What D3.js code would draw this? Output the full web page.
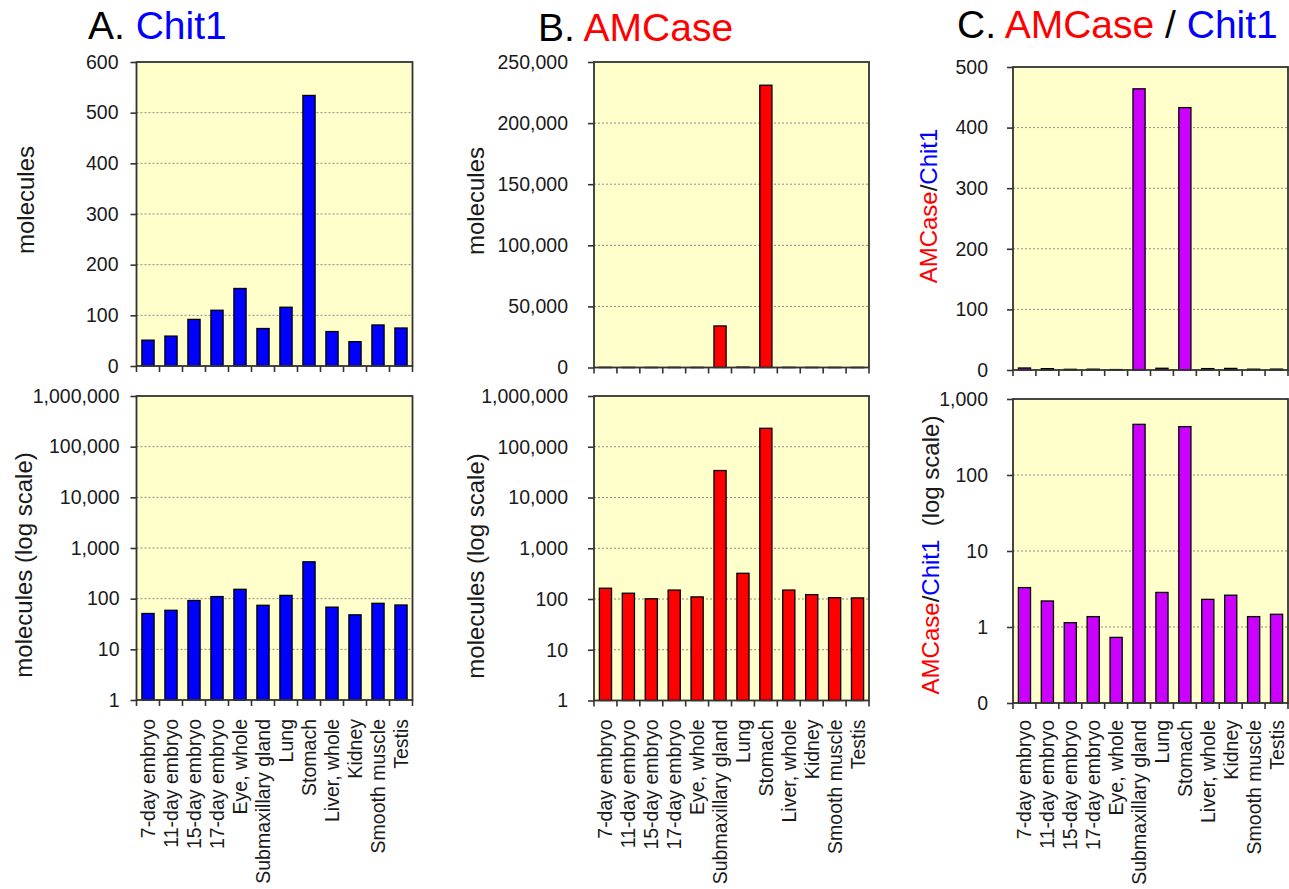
<!DOCTYPE html>
<html><head><meta charset="utf-8">
<script src="https://cdn.jsdelivr.net/npm/d3@7"></script>
<style>
body{margin:0;background:#fff}
text{font-family:Arial,"Liberation Sans",sans-serif}
</style>
</head><body>
<svg id="c" width="1289" height="889"></svg>
<script>
const categories = ["7-day embryo","11-day embryo","15-day embryo","17-day embryo","Eye, whole","Submaxillary gland","Lung","Stomach","Liver, whole","Kidney","Smooth muscle","Testis"];
const chit1 = [51,59,92,110,153,74,116,534,68,48,81,75];
const amcase = [163,130,101,150,110,34000,321,231000,150,122,106,105];
const ratio = [3.3,2.2,1.14,1.37,0.73,464,2.85,433,2.31,2.62,1.37,1.47];
const linTicksA = [0,100,200,300,400,500,600];
const linTicksB = [0,50000,100000,150000,200000,250000];
const linTicksC = [0,100,200,300,400,500];
const logTicksAB = [1,10,100,1000,10000,100000,1000000];
const logTicksC = [0.1,1,10,100,1000];

const BLUE="#0000ff", RED="#ff0000", PURPLE="#cc00ff", INK="#1a1a1a";
const svg = d3.select("#c");
const comma = d3.format(",");

function panel(o){
  const x = d3.scaleBand().domain(categories).range([o.x0,o.x1]);
  const y = (o.log ? d3.scaleLog() : d3.scaleLinear()).domain([o.ticks[0], o.ticks[o.ticks.length-1]]).range([o.y1,o.y0]);
  const g = svg.append("g");
  g.append("rect").attr("x",o.x0).attr("y",o.y0).attr("width",o.x1-o.x0).attr("height",o.y1-o.y0).attr("fill","#ffffcc");
  g.selectAll(".grid").data(o.ticks.slice(1,-1)).join("line")
    .attr("x1",o.x0).attr("x2",o.x1).attr("y1",d=>y(d)).attr("y2",d=>y(d))
    .attr("stroke","#8a8a8a").attr("stroke-width",1).attr("stroke-dasharray","2,2");
  const bw = x.bandwidth()*0.53;
  const base = y(o.ticks[0]);
  g.selectAll(".bar").data(o.values).join("rect")
    .attr("x",(d,i)=>x(categories[i])+(x.bandwidth()-bw)/2)
    .attr("width",bw)
    .attr("y",d=>y(d))
    .attr("height",d=>Math.max(0.3,base-y(d)))
    .attr("fill",o.color).attr("stroke","#000").attr("stroke-width",1.3);
  g.append("rect").attr("x",o.x0).attr("y",o.y0).attr("width",o.x1-o.x0).attr("height",o.y1-o.y0)
    .attr("fill","none").attr("stroke","#333").attr("stroke-width",1.8);
  // y axis
  const ya = d3.axisLeft(y).tickValues(o.ticks).tickSize(6).tickPadding(o.pad)
    .tickFormat(d=> d<1 ? "0" : comma(d));
  const yg = g.append("g").attr("transform",`translate(${o.x0},0)`).call(ya);
  yg.select(".domain").remove();
  yg.selectAll(".tick line").attr("stroke","#333").attr("stroke-width",1.6);
  yg.selectAll(".tick text").attr("fill",INK).style("font-size","19.5px").style("font-family","Arial, 'Liberation Sans', sans-serif");
  // x ticks at category boundaries
  const bounds = categories.map(c=>x(c)).concat([o.x1]);
  g.selectAll(".xt").data(bounds).join("line")
    .attr("x1",d=>d).attr("x2",d=>d).attr("y1",o.y1).attr("y2",o.y1+6)
    .attr("stroke","#333").attr("stroke-width",1.6);
  if(o.labels){
    g.selectAll(".cl").data(categories).join("text")
      .attr("transform",d=>`translate(${x(d)+x.bandwidth()/2},${o.y1+o.lgap}) rotate(-90)`)
      .attr("text-anchor","end").attr("dy","0.36em")
      .attr("fill",INK).style("font-size","19.5px").text(d=>d);
  }
  // y label
  const t = g.append("text")
    .attr("transform",`translate(${o.lx},${o.ly}) rotate(-90)`)
    .attr("text-anchor","middle").attr("dy","0.36em").style("font-size","24px").attr("fill",INK);
  o.ylabel.forEach(p=>t.append("tspan").attr("fill",p[1]).text(p[0]));
}

panel({x0:136.5,x1:412.5,y0:62,y1:366,log:false,ticks:linTicksA,values:chit1,color:BLUE,pad:12,
  lx:25,ly:200,ylabel:[["molecules",INK]]});
panel({x0:136.5,x1:412.5,y0:396,y1:700,log:true,ticks:logTicksAB,values:chit1,color:BLUE,pad:11,labels:true,lgap:19,
  lx:23,ly:565,ylabel:[["molecules (log scale)",INK]]});
panel({x0:594,x1:869,y0:62,y1:367.5,log:false,ticks:linTicksB,values:amcase,color:RED,pad:20,
  lx:475,ly:201,ylabel:[["molecules",INK]]});
panel({x0:594,x1:869,y0:396,y1:700.5,log:true,ticks:logTicksAB,values:amcase,color:RED,pad:20,labels:true,lgap:19,
  lx:475,ly:566,ylabel:[["molecules (log scale)",INK]]});
panel({x0:1013,x1:1288,y0:67,y1:370,log:false,ticks:linTicksC,values:ratio,color:PURPLE,pad:19,
  lx:928,ly:206,ylabel:[["AMCase",RED],["/",INK],["Chit1",BLUE]]});
panel({x0:1013,x1:1288,y0:399,y1:703,log:true,ticks:logTicksC,values:ratio,color:PURPLE,pad:19,labels:true,lgap:17,
  lx:930,ly:555,ylabel:[["AMCase",RED],["/",INK],["Chit1",BLUE],["\u00a0 (log scale)",INK]]});

// titles
function title(x,y,parts){
  const t = svg.append("text").attr("x",x).attr("y",y).style("font-size","39px");
  parts.forEach(p=>t.append("tspan").attr("fill",p[1]).text(p[0]));
}
title(88,39,[["A. ","#000"],["Chit1",BLUE]]);
title(538,41,[["B. ","#000"],["AMCase",RED]]);
title(957,38,[["C. ","#000"],["AMCase",RED],[" / ","#000"],["Chit1",BLUE]]);
</script>
</body></html>
